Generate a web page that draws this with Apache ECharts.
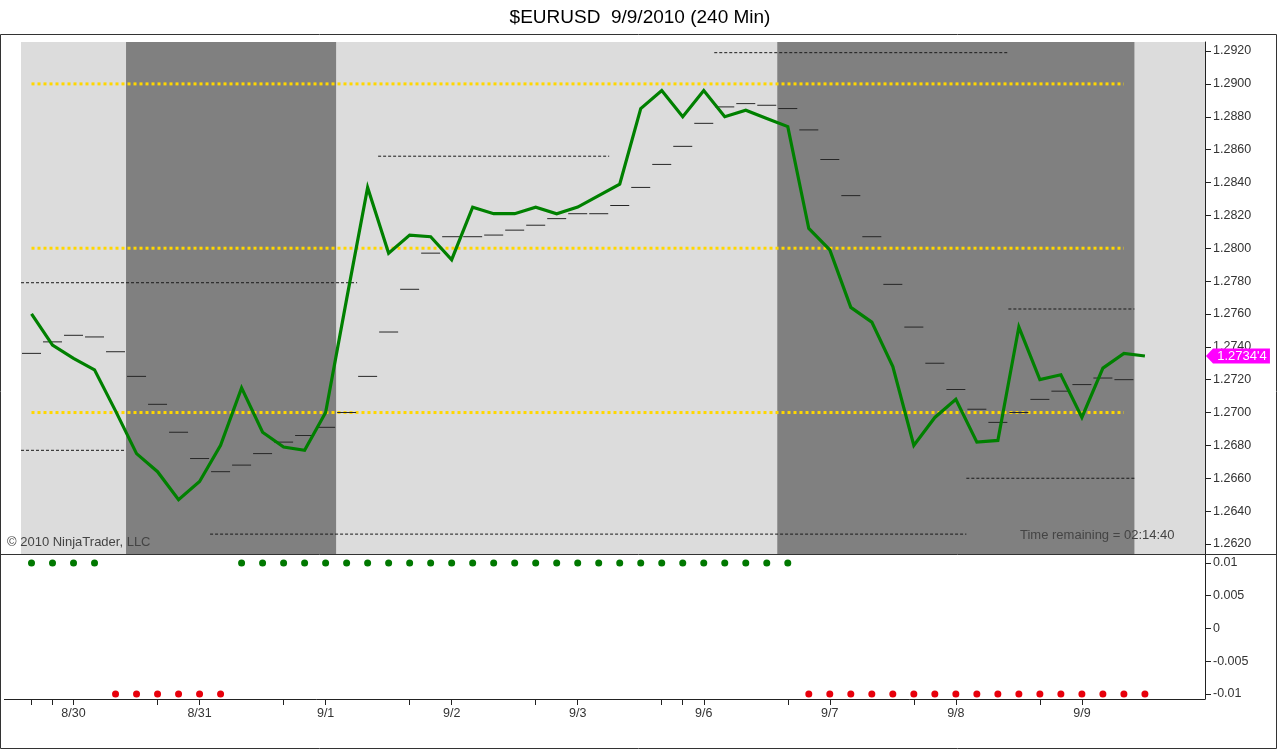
<!DOCTYPE html>
<html><head><meta charset="utf-8">
<script src="https://cdn.jsdelivr.net/npm/echarts@6/dist/echarts.min.js"></script>
<style>html,body{margin:0;padding:0;background:#fff}#c{width:1280px;height:751px}</style>
</head><body><div id="c"></div>
<script>
// 240-min closes, bar index 0..53
const closes = [1.2760, 1.2741, 1.2733, 1.2726, 1.2701, 1.2675, 1.2664, 1.2647, 1.2658, 1.2680,
  1.2715, 1.2688, 1.2679, 1.2677, 1.2700, 1.2769, 1.2837, 1.2797, 1.2808, 1.2807,
  1.2793, 1.2825, 1.2821, 1.2821, 1.2825, 1.2821, 1.2825, 1.2832, 1.2839, 1.2885,
  1.2896, 1.2880, 1.2896, 1.2880, 1.2884, 1.2879, 1.2874, 1.2812, 1.2799, 1.2764,
  1.2755, 1.2728, 1.2680, 1.2697, 1.2708, 1.2682, 1.2683, 1.2752, 1.2720, 1.2723,
  1.2697, 1.2727, 1.2736, 1.27344];
// short horizontal average marks, bar index 0..52
const avgMarks = [1.2736, 1.2743, 1.2747, 1.2746, 1.2737, 1.2722, 1.2705, 1.2688, 1.2672, 1.2664,
  1.2668, 1.2675, 1.2682, 1.2686, 1.2691, 1.2700, 1.2722, 1.2749, 1.2775, 1.2797,
  1.2807, 1.2807, 1.2808, 1.2811, 1.2814, 1.2818, 1.2821, 1.2821, 1.2826, 1.2837,
  1.2851, 1.2862, 1.2876, 1.2886, 1.2888, 1.2887, 1.2885, 1.2872, 1.2854, 1.2832,
  1.2807, 1.2778, 1.2752, 1.2730, 1.2714, 1.2702, 1.2694, 1.2700, 1.2708, 1.2713,
  1.2717, 1.2721, 1.2720];
// lower panel signal per bar
const signals = [0.01, 0.01, 0.01, 0.01, -0.01, -0.01, -0.01, -0.01, -0.01, -0.01,
  0.01, 0.01, 0.01, 0.01, 0.01, 0.01, 0.01, 0.01, 0.01, 0.01,
  0.01, 0.01, 0.01, 0.01, 0.01, 0.01, 0.01, 0.01, 0.01, 0.01,
  0.01, 0.01, 0.01, 0.01, 0.01, 0.01, 0.01, -0.01, -0.01, -0.01,
  -0.01, -0.01, -0.01, -0.01, -0.01, -0.01, -0.01, -0.01, -0.01, -0.01,
  -0.01, -0.01, -0.01, -0.01];
// prior-day high/low dashed levels
const levelValues = [1.2779, 1.2677, 1.2626, 1.2856, 1.2919, 1.2660, 1.2763];
const levelStarts = [-0.5, -0.5, 8.5, 16.5, 32.5, 44.5, 46.5];
const levelEnds   = [15.5, 4.5, 44.5, 27.5, 46.5, 52.5, 52.5];
// round-number guide lines
const guideLevels = [1.2900, 1.2800, 1.2700];
const guideStart = 0, guideEnd = 52;
// dark session bands
const bandStarts = [4.5, 35.5];
const bandEnds = [14.5, 52.5];
// axis ticks / labels
const dayTickBars = [0, 1, 2, 6, 8, 12, 14, 18, 20, 24, 26, 30, 31, 32, 36, 38, 42, 44, 48, 50];
const dayLabelBars = [2, 8, 14, 20, 26, 32, 38, 44, 50];
const dayLabels = ['8/30', '8/31', '9/1', '9/2', '9/3', '9/6', '9/7', '9/8', '9/9'];
const priceTicks = [1.2620, 1.2640, 1.2660, 1.2680, 1.2700, 1.2720, 1.2740, 1.2760, 1.2780, 1.2800,
  1.2820, 1.2840, 1.2860, 1.2880, 1.2900, 1.2920];
const oscTicks = [0.01, 0.005, 0, -0.005, -0.01];
const oscTickLabels = ['0.01', '0.005', '0', '-0.005', '-0.01'];
const lastPriceLabel = "1.2734'4";

const FONT = 'Liberation Sans, Arial, sans-serif';
const chart = echarts.init(document.getElementById('c'));

const series = [];
// guide lines + session bands
guideLevels.forEach((v, k) => {
  const s = {
    type: 'line', xAxisIndex: 0, yAxisIndex: 0, z: 2, silent: true,
    data: [[guideStart, v], [guideEnd, v]], showSymbol: false, symbol: 'none',
    lineStyle: { color: '#ffd700', width: 3, type: [3, 3], cap: 'butt' }
  };
  if (k === 0) {
    s.markArea = {
      silent: true, z: 1,
      itemStyle: { color: '#808080', opacity: 1 },
      data: bandStarts.map((b, i) => [{ xAxis: b }, { xAxis: bandEnds[i] }])
    };
  }
  series.push(s);
});
// dashed levels
levelValues.forEach((v, i) => {
  series.push({
    type: 'line', xAxisIndex: 0, yAxisIndex: 0, z: 3, silent: true,
    data: [[levelStarts[i], v], [levelEnds[i], v]], showSymbol: false, symbol: 'none',
    lineStyle: { color: '#1a1a1a', width: 1, type: [3, 2] }
  });
});
// average marks
series.push({
  type: 'scatter', xAxisIndex: 0, yAxisIndex: 0, z: 4, silent: true,
  symbol: 'rect', symbolSize: [19, 1],
  itemStyle: { color: '#262626', opacity: 1 },
  data: avgMarks.map((v, i) => [i, v])
});
// price line
series.push({
  type: 'line', xAxisIndex: 0, yAxisIndex: 0, z: 5, clip: false,
  data: closes.map((v, i) => [i, v]), showSymbol: false, symbol: 'none',
  lineStyle: { color: '#008000', width: 3.2, join: 'miter' },
  markPoint: {
    silent: true,
    symbol: 'path://M0,7.5 L7,0 L63,0 L63,15 L7,15 Z',
    symbolSize: [64, 15], symbolKeepAspect: false,
    symbolOffset: [93, 0],
    itemStyle: { color: '#ff00ff' },
    label: { show: true, color: '#fff', fontSize: 13, fontFamily: FONT, offset: [4, 0], formatter: lastPriceLabel },
    data: [{ coord: [closes.length - 1, closes[closes.length - 1]] }]
  }
});
// lower panel dots
series.push({
  type: 'scatter', xAxisIndex: 1, yAxisIndex: 1, z: 4, silent: true,
  symbolSize: 7, itemStyle: { color: '#007800', opacity: 1 },
  data: signals.map((v, i) => [i, v]).filter(p => p[1] > 0)
});
series.push({
  type: 'scatter', xAxisIndex: 1, yAxisIndex: 1, z: 4, silent: true,
  symbolSize: 7, itemStyle: { color: '#e8000b', opacity: 1 },
  data: signals.map((v, i) => [i, v]).filter(p => p[1] < 0)
});

const axisLineStyle = { color: '#222', width: 1 };
const labelStyle = { color: '#333', fontSize: 12.5, fontFamily: FONT };

chart.setOption({
  animation: false,
  backgroundColor: '#fff',
  title: {
    text: '$EURUSD  9/9/2010 (240 Min)', left: 'center', top: 3,
    textStyle: { fontSize: 19, fontWeight: 'normal', color: '#000', fontFamily: FONT }
  },
  grid: [
    { left: 21, top: 42, width: 1184, height: 512, show: true, backgroundColor: '#dcdcdc', borderWidth: 0 },
    { left: 21, top: 554, width: 1184, height: 145, show: false }
  ],
  xAxis: [
    { type: 'value', gridIndex: 0, min: -0.5, max: 55.86, show: false },
    {
      type: 'value', gridIndex: 1, min: -0.5, max: 55.86,
      axisLine: { show: true, lineStyle: axisLineStyle, onZero: false },
      splitLine: { show: false },
      axisTick: { show: true, length: 6, lineStyle: axisLineStyle, customValues: dayTickBars },
      axisLabel: Object.assign({ margin: 8, customValues: dayLabelBars,
        formatter: v => { const k = dayLabelBars.indexOf(Math.round(v)); return k >= 0 ? dayLabels[k] : ''; } }, labelStyle)
    }
  ],
  yAxis: [
    {
      type: 'value', gridIndex: 0, position: 'right', min: 1.26139, max: 1.29255, scale: true,
      axisLine: { show: true, onZero: false, lineStyle: axisLineStyle },
      splitLine: { show: false },
      axisTick: { show: true, length: 6, lineStyle: axisLineStyle, customValues: priceTicks },
      axisLabel: Object.assign({ margin: 8, customValues: priceTicks, formatter: v => v.toFixed(4) }, labelStyle)
    },
    {
      type: 'value', gridIndex: 1, position: 'right', min: -0.01076, max: 0.01137,
      axisLine: { show: true, onZero: false, lineStyle: axisLineStyle },
      splitLine: { show: false },
      axisTick: { show: true, length: 6, lineStyle: axisLineStyle, customValues: oscTicks },
      axisLabel: Object.assign({ margin: 8, customValues: oscTicks,
        formatter: v => { let k = oscTicks.findIndex(t => Math.abs(t - v) < 1e-9); return k >= 0 ? oscTickLabels[k] : ''; } }, labelStyle)
    }
  ],
  graphic: [
    { type: 'rect', silent: true, z: 100, shape: { x: 0.5, y: 34.5, width: 1276, height: 714 },
      style: { fill: 'none', stroke: '#333', lineWidth: 1 } },
    { type: 'line', silent: true, z: 100, shape: { x1: 0, y1: 554.5, x2: 1277, y2: 554.5 },
      style: { stroke: '#333', lineWidth: 1 } },
    { type: 'line', silent: true, z: 100, shape: { x1: 4, y1: 699.5, x2: 21, y2: 699.5 },
      style: { stroke: '#222', lineWidth: 1 } },
    { type: 'text', silent: true, z: 100, left: 7, top: 536,
      style: { text: '© 2010 NinjaTrader, LLC', fill: '#444', font: '13px ' + FONT } },
    { type: 'text', silent: true, z: 100, left: 1020, top: 529,
      style: { text: 'Time remaining = 02:14:40', fill: '#444', font: '13px ' + FONT } }
  ],
  series: series
});
</script></body></html>
